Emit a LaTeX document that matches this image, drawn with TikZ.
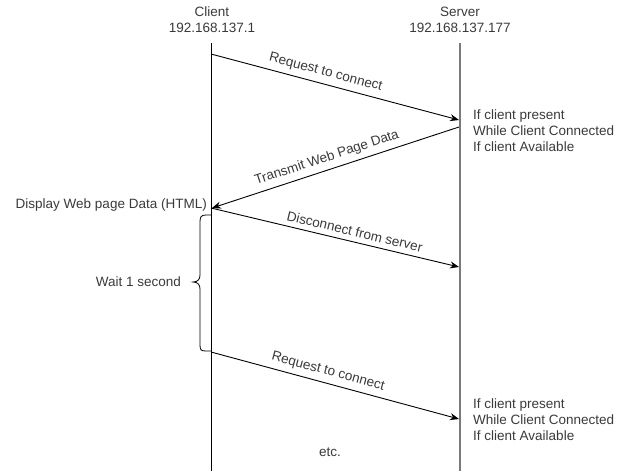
\documentclass[tikz,border=0pt]{standalone}
\usepackage{fontspec}
\setmainfont{Liberation Sans}
\usetikzlibrary{arrows.meta}
\definecolor{txt}{HTML}{3A3A3A}
\definecolor{srv}{HTML}{7A7A7A}
\begin{document}
\begin{tikzpicture}[x=1pt,y=-1pt,
  lbl/.style={text=txt,font=\fontsize{13.5}{16}\selectfont,inner sep=0pt},
  msg/.style={draw=black,line width=0.9pt,-{Stealth[length=9pt,width=7pt]}},
  msgtxt/.style={lbl,sloped,above=5pt},
  block/.style={lbl,align=left,anchor=north west}]
\useasboundingbox (0,0) rectangle (628,471);
% headers
\node[lbl,align=center] (client) at (212,20) {Client\\192.168.137.1};
\node[lbl,align=center] (server) at (460,20) {Server\\192.168.137.177};
% lifelines
\coordinate (ctop) at (211,43);
\coordinate (cbot) at (211,471);
\coordinate (stop) at (460,43);
\coordinate (sbot) at (460,471);
\draw[black,line width=0.9pt] (ctop) -- (cbot);
\draw[srv,line width=1.6pt] (stop) -- (sbot);
% message points
\coordinate (c1) at (211,54);
\coordinate (s1) at (459,120);
\coordinate (s2) at (459,127);
\coordinate (c2) at (212,208);
\coordinate (c3) at (211,208);
\coordinate (s3) at (459,267);
\coordinate (c4) at (211,352);
\coordinate (s4) at (459,419);
\draw[msg] (c1) -- node[msgtxt,pos=0.45] (m1) {Request to connect} (s1);
\draw[msg] (s2) -- node[msgtxt,pos=0.52] (m2) {Transmit Web Page Data} (c2);
\draw[msg] (c3) -- node[msgtxt,pos=0.57] (m3) {Disconnect from server} (s3);
\draw[msg] (c4) -- node[msgtxt,pos=0.46] (m4) {Request to connect} (s4);
% server notes
\node[block] (n1) at (473,110) {If client present\\While Client Connected\\If client Available};
\node[block] (n2) at (473,399) {If client present\\While Client Connected\\If client Available};
% client notes
\node[lbl,anchor=east] (disp) at (207,205) {Display Web page Data (HTML)};
\node[lbl,anchor=east] (wait) at (181,282) {Wait 1 second};
\draw[black,line width=0.8pt] (211,215) -- (206,215) .. controls (201,215) and (200,217) .. (200,222)
  -- (200,275) .. controls (200,279) and (198,282) .. (193,282)
  .. controls (198,282) and (200,285) .. (200,289)
  -- (200,345) .. controls (200,350) and (201,351) .. (206,351) -- (211,351);
\node[lbl] (etc) at (330,452) {etc.};
\end{tikzpicture}
\end{document}
